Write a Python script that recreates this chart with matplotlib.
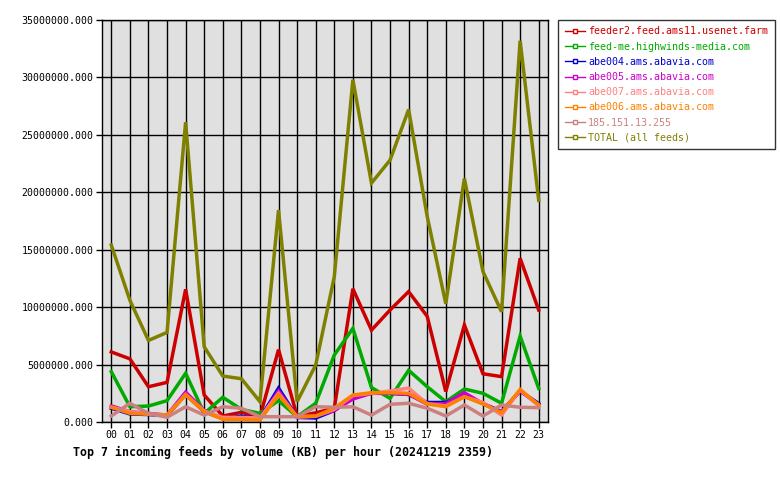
import matplotlib
matplotlib.use('Agg')
import matplotlib.pyplot as plt
from matplotlib.ticker import FuncFormatter

# heures et volumes (KB) par feed, en millions
hours = ['%02d' % h for h in range(24)]

feeder2 = [6.1, 5.5, 3.07, 3.45, 11.55, 2.35, 0.52, 0.84, 0.46, 6.3, 0.5, 0.8,
           1.2, 11.6, 8.0, 9.75, 11.35, 9.2, 2.65, 8.45, 4.2, 3.95, 14.25, 9.75]
highwinds = [4.38, 1.33, 1.39, 1.86, 4.24, 0.75, 2.15, 1.1, 0.75, 1.86, 0.46, 1.63,
             5.83, 8.15, 3.0, 2.06, 4.5, 3.07, 1.77, 2.87, 2.5, 1.63, 7.48, 2.93]
abe004 = [1.2, 0.7, 0.65, 0.55, 2.4, 0.9, 0.3, 0.5, 0.3, 2.95, 0.4, 0.35,
          1.0, 2.2, 2.5, 2.5, 2.4, 1.7, 1.7, 2.3, 1.6, 0.9, 2.7, 1.6]
abe005 = [1.4, 0.9, 0.75, 0.6, 2.6, 1.0, 0.3, 0.3, 0.3, 2.7, 0.4, 0.5,
          1.0, 2.0, 2.5, 2.5, 2.4, 1.55, 1.6, 2.55, 1.6, 0.9, 2.7, 1.5]
abe007 = [1.3, 0.9, 0.7, 0.6, 2.4, 0.95, 0.4, 0.4, 0.35, 2.5, 0.45, 0.5,
          1.1, 2.3, 2.5, 2.7, 2.95, 1.6, 1.4, 2.2, 1.7, 0.6, 2.8, 1.4]
abe006 = [1.28, 0.75, 0.67, 0.6, 2.35, 0.9, 0.23, 0.23, 0.17, 2.35, 0.46, 0.52,
          1.2, 2.35, 2.55, 2.55, 2.5, 1.57, 1.33, 2.2, 1.57, 0.81, 2.84, 1.48]
ip185 = [0.52, 1.63, 0.75, 0.41, 1.33, 0.6, 1.33, 1.2, 0.46, 0.46, 0.46, 1.33,
         1.28, 1.33, 0.6, 1.54, 1.63, 1.2, 0.52, 1.48, 0.52, 1.48, 1.28, 1.25]
total = [15.4, 10.6, 7.1, 7.8, 26.1, 6.55, 4.0, 3.77, 1.77, 18.45, 1.77, 4.96,
         12.65, 29.8, 20.8, 22.8, 27.2, 17.9, 10.3, 21.2, 13.1, 9.6, 33.2, 19.3]

series = [
    ('feeder2.feed.ams11.usenet.farm', feeder2, '#cc0000'),
    ('feed-me.highwinds-media.com', highwinds, '#00aa00'),
    ('abe004.ams.abavia.com', abe004, '#0000cc'),
    ('abe005.ams.abavia.com', abe005, '#cc00cc'),
    ('abe007.ams.abavia.com', abe007, '#ff8080'),
    ('abe006.ams.abavia.com', abe006, '#ff8000'),
    ('185.151.13.255', ip185, '#cc8080'),
    ('TOTAL (all feeds)', total, '#808000'),
]

plt.rcParams['font.family'] = 'DejaVu Sans Mono'

fig = plt.figure(figsize=(7.8, 4.8), dpi=100)
ax = fig.add_axes([102 / 780, 1 - 422 / 480, 446 / 780, 402 / 480])
ax.set_facecolor('#e0e0e0')

x = list(range(24))
handles = []
for name, vals, col in series:
    ax.plot(x, [v * 1e6 for v in vals], color=col, lw=2.5, solid_joinstyle='miter')
    h, = plt.plot([], [], color=col, lw=1, marker='s', markersize=3,
                  markerfacecolor='white', markeredgecolor=col, label=name)
    handles.append(h)

ax.set_xlim(-0.5, 23.5)
ax.set_ylim(0, 35e6)
ax.set_xticks(x)
ax.set_xticklabels(hours)
ax.set_yticks([i * 5e6 for i in range(8)])
ax.yaxis.set_major_formatter(FuncFormatter(lambda v, p: '%.3f' % v))
ax.grid(True, color='black', lw=1)
ax.set_axisbelow(True)
ax.tick_params(labelsize=7.1, length=4, width=1, color='black', pad=2)
for s in ax.spines.values():
    s.set_linewidth(1)

fig.text(73 / 780, 1 - 452 / 480, 'Top 7 incoming feeds by volume (KB) per hour (20241219 2359)',
         fontsize=8.4, fontweight='bold', va='center', ha='left')

leg = fig.legend(handles=handles, loc='upper left', bbox_to_anchor=(558 / 780, 1 - 20 / 480),
                 fontsize=7.2, frameon=True, fancybox=False, edgecolor='black',
                 handlelength=2.0, handletextpad=0.35, borderpad=0.65, labelspacing=0.52,
                 borderaxespad=0)
leg.get_frame().set_linewidth(1)
for t, (name, vals, col) in zip(leg.get_texts(), series):
    t.set_color(col)

fig.savefig('out.png', dpi=100)
